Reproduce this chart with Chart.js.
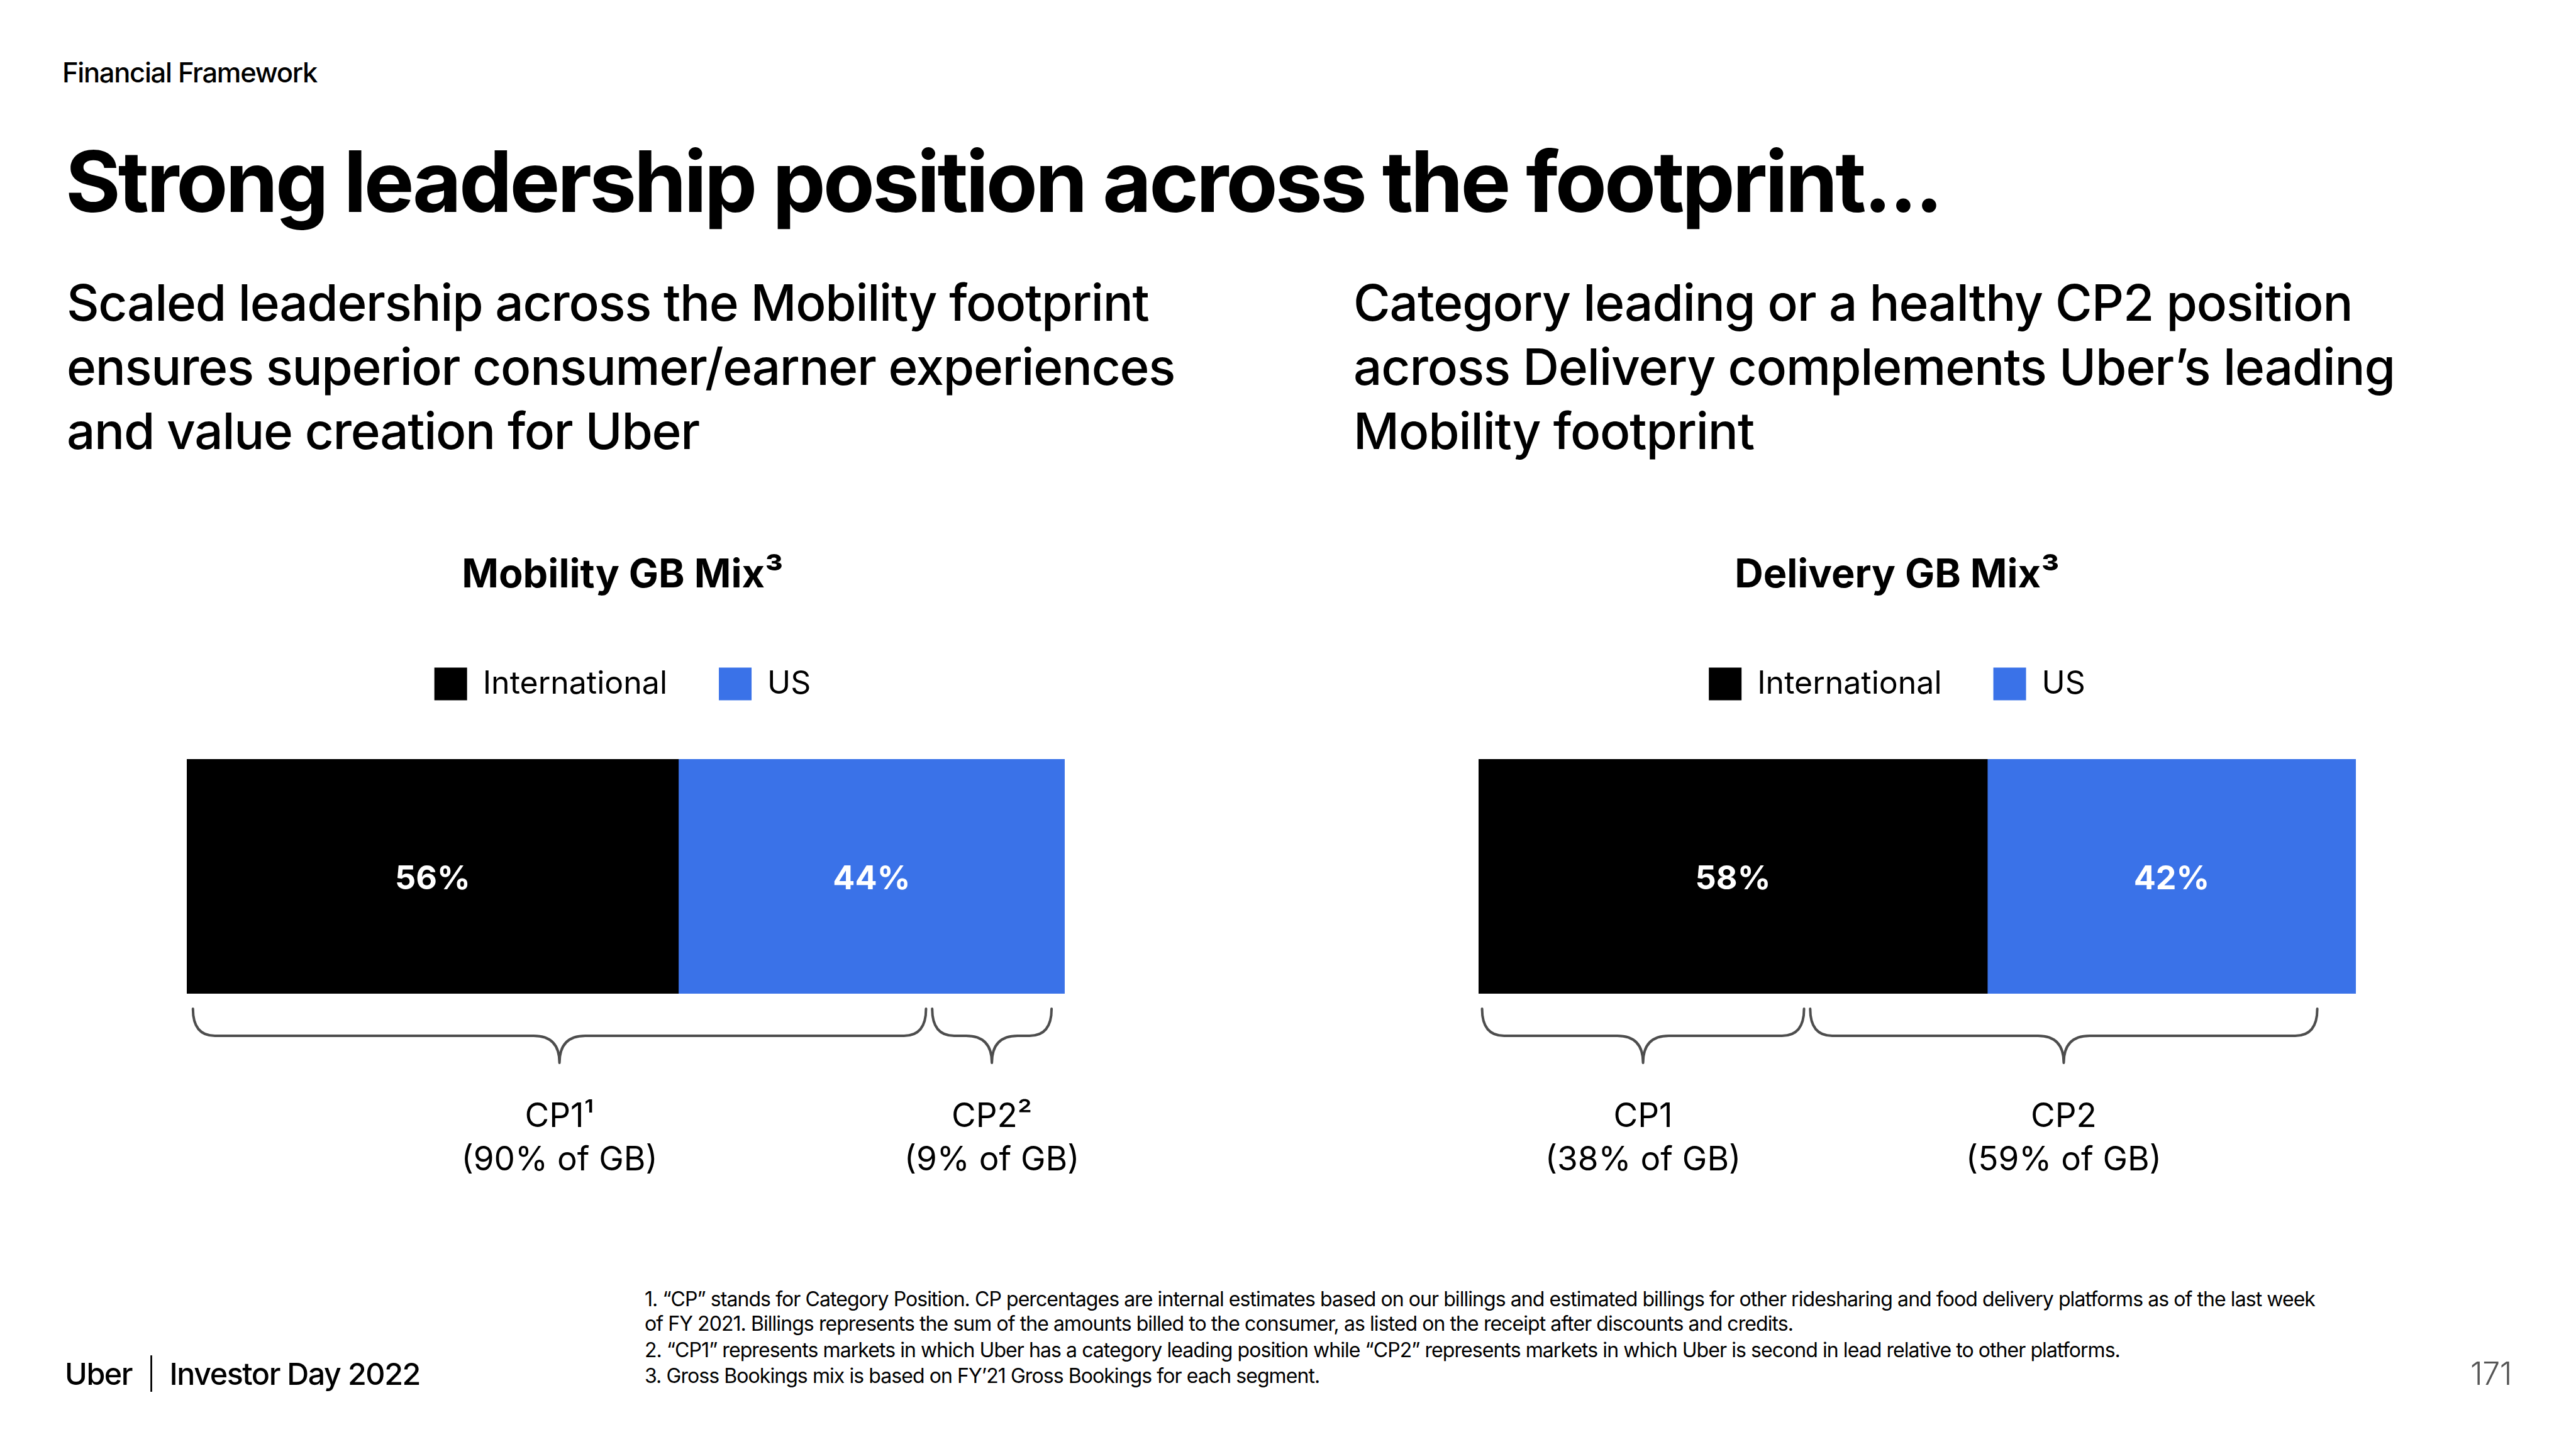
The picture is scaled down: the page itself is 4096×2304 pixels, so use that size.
<!DOCTYPE html>
<html>
<head>
<meta charset="utf-8">
<title>Strong leadership position across the footprint</title>
<script src="https://cdn.jsdelivr.net/npm/chart.js@4.4.1/dist/chart.umd.min.js"></script>
<style>
  html, body { margin: 0; padding: 0; background: #fff; }
  body { width: 4096px; height: 2304px; position: relative; overflow: hidden; font-family: Inter, 'Noto Sans', sans-serif; color: #000; }
  .t { position: absolute; white-space: nowrap; line-height: 1; }
  .box { position: absolute; }
  #pageNum { color: #555; }
</style>
</head>
<body>

<div class="t" id="kicker">Financial Framework</div>
<div class="t" id="headline">Strong leadership position across the footprint...</div>

<div class="t" id="subL1">Scaled leadership across the Mobility footprint</div>
<div class="t" id="subL2">ensures superior consumer/earner experiences</div>
<div class="t" id="subL3">and value creation for Uber</div>

<div class="t" id="subR1">Category leading or a healthy CP2 position</div>
<div class="t" id="subR2">across Delivery complements Uber’s leading</div>
<div class="t" id="subR3">Mobility footprint</div>

<div class="box" style="left:0px;top:877px;width:2048px;height:1023px"><canvas id="mobility"></canvas></div>
<div class="box" style="left:2048px;top:877px;width:2048px;height:1023px"><canvas id="delivery"></canvas></div>

<div class="t" id="foot1">1. “CP” stands for Category Position. CP percentages are internal estimates based on our billings and estimated billings for other ridesharing and food delivery platforms as of the last week</div>
<div class="t" id="foot2">of FY 2021. Billings represents the sum of the amounts billed to the consumer, as listed on the receipt after discounts and credits.</div>
<div class="t" id="foot3">2. “CP1” represents markets in which Uber has a category leading position while “CP2” represents markets in which Uber is second in lead relative to other platforms.</div>
<div class="t" id="foot4">3. Gross Bookings mix is based on FY’21 Gross Bookings for each segment.</div>

<div class="t" id="brand">Uber&nbsp;&nbsp;<span style="font-weight:300">|</span>&nbsp;&nbsp;Investor Day 2022</div>
<div class="t" id="pageNum">171</div>

<script>
'use strict'

//series
let segments = ['International', 'US'];
let segmentColors = ['#000000', '#3a72e8'];

//mobility
let mobilityShare = [56, 44];
let mobilityCP = ['CP1¹', 'CP2²'];
let mobilityCPShare = [90, 9];
//brace spans on the 0-100 axis
let mobilityBraces = [[0.7, 84.2], [84.9, 98.5]];

//delivery
let deliveryShare = [58, 42];
let deliveryCP = ['CP1', 'CP2'];
let deliveryCPShare = [38, 59];
let deliveryBraces = [[0.4, 37.1], [37.8, 95.6]];

Chart.defaults.font.family = 'Inter, "Noto Sans", sans-serif';
Chart.defaults.color = '#000';

// white % labels inside the bars
const barLabels = {
  id: 'barLabels',
  afterDatasetsDraw(chart) {
    let ctx = chart.ctx;
    ctx.save();
    ctx.font = '700 52px Inter, sans-serif';
    ctx.fillStyle = '#fff';
    ctx.textAlign = 'center';
    ctx.textBaseline = 'middle';
    chart.data.datasets.forEach((ds, i) => {
      chart.getDatasetMeta(i).data.forEach((bar, j) => {
        let p = bar.getCenterPoint();
        ctx.fillText(ds.data[j] + '%', p.x, p.y + 5);
      });
    });
    ctx.restore();
  }
};

// curly braces + CP captions under the bar
const braces = {
  id: 'braces',
  afterDraw(chart, args, opts) {
    let ctx = chart.ctx;
    let area = chart.chartArea;
    let x = chart.scales.x;
    let top = area.bottom + 24;
    let mid = area.bottom + 67;
    let tip = area.bottom + 110;
    ctx.save();
    ctx.strokeStyle = '#4d4d4d';
    ctx.lineWidth = 4;
    ctx.lineCap = 'round';
    ctx.lineJoin = 'round';
    opts.spans.forEach((span, i) => {
      let x0 = x.getPixelForValue(span[0]);
      let x1 = x.getPixelForValue(span[1]);
      let xm = (x0 + x1) / 2;
      ctx.beginPath();
      ctx.moveTo(x0, top);
      ctx.quadraticCurveTo(x0, mid, x0 + 35, mid);
      ctx.lineTo(xm - 41, mid);
      ctx.quadraticCurveTo(xm, mid, xm, tip);
      ctx.quadraticCurveTo(xm, mid, xm + 41, mid);
      ctx.lineTo(x1 - 35, mid);
      ctx.quadraticCurveTo(x1, mid, x1, top);
      ctx.stroke();

      ctx.fillStyle = '#000';
      ctx.textAlign = 'center';
      ctx.textBaseline = 'alphabetic';
      ctx.font = '400 53px Inter, sans-serif';
      ctx.fillText(opts.names[i], xm, area.bottom + 212);
      ctx.fillText('(' + opts.shares[i] + '% of GB)', xm, area.bottom + 281);
    });
    ctx.restore();
  }
};

// padLeft + axisW puts the bar in place; title and legend center on padLeft..right
function makeChart(id, title, shares, cpNames, cpShares, spans, padLeft, axisW, padRight){
  return new Chart(document.getElementById(id), {
    type: 'bar',
    data: {
      labels: [title],
      datasets: segments.map((s, i) => ({
        label: s,
        data: [shares[i]],
        backgroundColor: segmentColors[i],
        borderWidth: 0,
        barPercentage: 1,
        categoryPercentage: 1
      }))
    },
    options: {
      indexAxis: 'y',
      responsive: true,
      maintainAspectRatio: false,
      animation: false,
      layout: { padding: { left: padLeft, right: padRight, top: 0, bottom: 320 } },
      scales: {
        x: { stacked: true, min: 0, max: 100, display: false },
        y: {
          stacked: true,
          ticks: { display: false },
          grid: { display: false },
          border: { display: false },
          afterFit: (scale) => { scale.width = axisW; }
        }
      },
      plugins: {
        title: {
          display: true,
          text: title + '³',
          font: { size: 63, weight: '700', lineHeight: 1.2 },
          padding: { top: 0, bottom: 26.9 }
        },
        // empty spacer between legend and bar
        subtitle: {
          display: true,
          text: '',
          weight: 500,
          font: { size: 83.5, lineHeight: 1 },
          padding: 0
        },
        legend: {
          position: 'top',
          align: 'center',
          labels: { boxWidth: 52, boxHeight: 52, padding: 82, font: { size: 50 }, color: '#000' }
        },
        tooltip: { enabled: false },
        braces: { names: cpNames, shares: cpShares, spans: spans }
      }
    },
    plugins: [barLabels, braces]
  });
}

makeChart('mobility', 'Mobility GB Mix', mobilityShare, mobilityCP, mobilityCPShare, mobilityBraces, 287, 10, 355);
makeChart('delivery', 'Delivery GB Mix', deliveryShare, deliveryCP, deliveryCPShare, deliveryBraces, 239, 64, 350);

// page text: left x, baselines, size, weight, width of the reference line
let blocks = [
  { ids: ['kicker'], x: 99, bases: [131], size: 44, weight: 500, width: 405 },
  { ids: ['headline'], x: 104, bases: [337], size: 137, weight: 700, width: 2982 },
  { ids: ['subL1', 'subL2', 'subL3'], x: 106, bases: [510, 612, 714], size: 80, weight: 500, width: 1762, ref: 1 },
  { ids: ['subR1', 'subR2', 'subR3'], x: 2152, bases: [510, 612, 714], size: 80, weight: 500, width: 1656, ref: 1 },
  { ids: ['foot1', 'foot2', 'foot3', 'foot4'], x: 1025, bases: [2077, 2116, 2158, 2199], size: 32, weight: 400, width: 2656 },
  { ids: ['brand'], x: 103, bases: [2202], size: 50, weight: 500, width: 565 },
  { ids: ['pageNum'], x: 3994, bases: [2202], size: 50, weight: 300, width: 66, align: 'right' }
];

function baselineOffset(el){
  let m = document.createElement('span');
  m.style.cssText = 'display:inline-block;width:0;height:0;';
  el.insertBefore(m, el.firstChild);
  let off = m.offsetTop;
  m.remove();
  return off;
}

function placeBlock(b){
  let els = b.ids.map(id => document.getElementById(id));
  let ref = els[b.ref || 0];
  els.forEach(el => {
    el.style.fontWeight = b.weight;
    el.style.fontSize = b.size + 'px';
    el.style.letterSpacing = '0px';
  });
  let n = ref.textContent.length;
  let w0 = ref.getBoundingClientRect().width;
  let track = (b.width - w0) / n;
  track = Math.max(-0.03 * b.size, Math.min(0.01 * b.size, track));
  let k = b.width / (w0 + track * n);
  els.forEach((el, i) => {
    el.style.fontSize = (b.size * k) + 'px';
    el.style.letterSpacing = (track * k) + 'px';
    el.style.top = (b.bases[i] - baselineOffset(el)) + 'px';
    if (b.align === 'right') {
      el.style.left = (b.x - el.getBoundingClientRect().width) + 'px';
    } else {
      el.style.left = b.x + 'px';
    }
  });
}

blocks.forEach(placeBlock);
document.fonts.ready.then(() => blocks.forEach(placeBlock));
</script>
</body>
</html>
